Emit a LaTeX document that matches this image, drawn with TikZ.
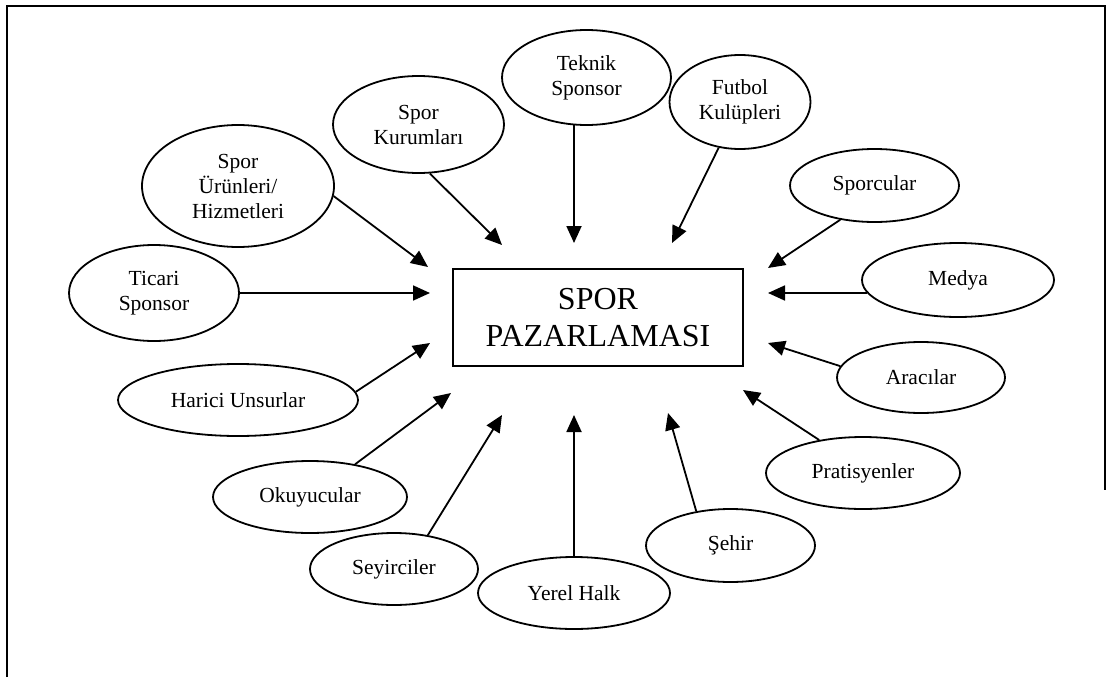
\documentclass[tikz,border=0pt]{standalone}
\usepackage{fontspec}
\setmainfont{Liberation Serif}
\usetikzlibrary{shapes.geometric,arrows.meta}
\begin{document}
\begin{tikzpicture}[x=1pt,y=-1pt,
  actor/.style={draw, ellipse, line width=1.8pt, inner sep=0pt, align=center,
                font=\fontsize{21.5}{25}\selectfont},
  core/.style={draw, rectangle, line width=1.4pt, inner sep=0pt, align=center,
               minimum width=290pt, minimum height=97pt,
               font=\fontsize{32}{37}\selectfont},
  link/.style={line width=1.8pt, -{Triangle[length=17pt,width=15pt]}}]
\useasboundingbox (0,0) rectangle (1113,677);

% open frame
\draw[line width=2.2pt] (7,677) -- (7,6) -- (1105,6) -- (1105,490);

% central concept
\node[core] (sp) at (598,317.5) {SPOR\\PAZARLAMASI};

% surrounding stakeholders
\node[actor, minimum width=169pt, minimum height=95pt]  (tek) at (586.5,77.5) {Teknik\\Sponsor};
\node[actor, minimum width=141pt, minimum height=94pt]  (fut) at (740,102)    {Futbol\\Kulüpleri};
\node[actor, minimum width=171pt, minimum height=97pt]  (kur) at (418.5,124.5){Spor\\Kurumları};
\node[actor, minimum width=192pt, minimum height=122pt] (uru) at (238,186)    {Spor\\Ürünleri/\\Hizmetleri};
\node[actor, minimum width=170pt, minimum height=96pt]  (tic) at (154,293)    {Ticari\\Sponsor};
\node[actor, minimum width=240pt, minimum height=72pt]  (har) at (238,400)    {Harici Unsurlar};
\node[actor, minimum width=194pt, minimum height=72pt]  (oku) at (310,497)    {Okuyucular};
\node[actor, minimum width=168pt, minimum height=72pt]  (sey) at (394,569)    {Seyirciler};
\node[actor, minimum width=192pt, minimum height=72pt]  (yer) at (574,593)    {Yerel Halk};
\node[actor, minimum width=169pt, minimum height=73pt]  (seh) at (730.5,545.5){Şehir};
\node[actor, minimum width=194pt, minimum height=72pt]  (pra) at (863,473)    {Pratisyenler};
\node[actor, minimum width=168pt, minimum height=71pt]  (ara) at (921,377.5)  {Aracılar};
\node[actor, minimum width=192pt, minimum height=74pt]  (med) at (958,280)    {Medya};
\node[actor, minimum width=169pt, minimum height=73pt]  (spc) at (874.5,185.5){Sporcular};

% arrow tips around the central box
\coordinate (pTek) at (574,243);
\coordinate (pFut) at (672,243);
\coordinate (pKur) at (502,245);
\coordinate (pUru) at (428,267);
\coordinate (pTic) at (430,293);
\coordinate (pHar) at (430,343);
\coordinate (pOku) at (451,393);
\coordinate (pSey) at (502,415);
\coordinate (pYer) at (574,415);
\coordinate (pSeh) at (668,413);
\coordinate (pPra) at (743,390);
\coordinate (pAra) at (768,343);
\coordinate (pMed) at (768,293);
\coordinate (pSpc) at (768,268);

% connectors
\draw[link] (pTek |- tek.-105) -- (pTek);
\draw[link] (fut.-115) -- (pFut);
\draw[link] (kur.-77)  -- (pKur);
\draw[link] (uru.-6.5) -- (pUru);
\draw[link] (tic.east) -- (pTic);
\draw[link] (har.4.8)  -- (pHar);
\draw[link] (oku.36.7) -- (pOku);
\draw[link] (sey.45)   -- (pSey);
\draw[link] (yer.north)-- (pYer);
\draw[link] (seh.135)  -- (pSeh);
\draw[link] (pra.143)  -- (pPra);
\draw[link] (ara.172)  -- (pAra);
\draw[link] (pMed -| med.188) -- (pMed);
\draw[link] (spc.-135) -- (pSpc);
\end{tikzpicture}
\end{document}
